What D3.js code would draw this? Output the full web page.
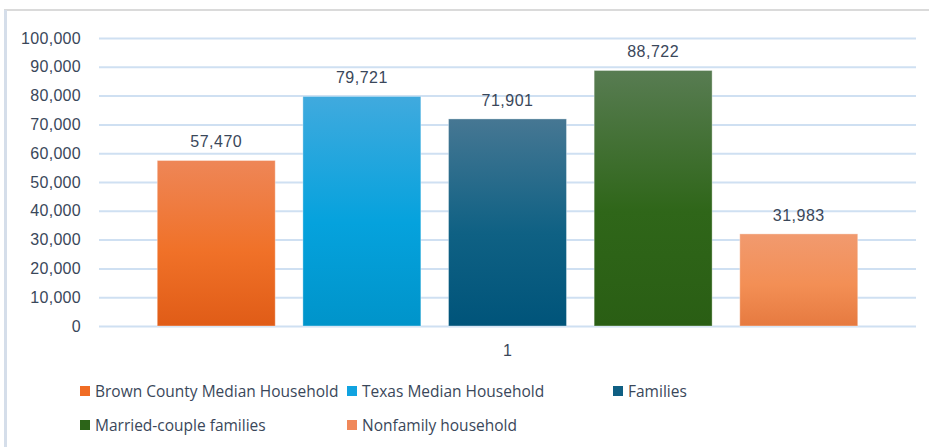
<!DOCTYPE html>
<html>
<head>
<meta charset="utf-8">
<script src="https://cdn.jsdelivr.net/npm/d3@7"></script>
<style>
  body { margin: 0; background: #fff; }
  svg { display: block; }
  .tick text { font-family: "Liberation Sans", Arial, sans-serif; }
</style>
</head>
<body>
<script>
const categories = ["1"];
const seriesNames = ["Brown County Median Household", "Texas Median Household", "Families",
                     "Married-couple families", "Nonfamily household"];
const seriesValues = [57470, 79721, 71901, 88722, 31983];
const yTicks = [0, 10000, 20000, 30000, 40000, 50000, 60000, 70000, 80000, 90000, 100000];
// top, mid, bottom of each bar's gradient
const barColors = [
  ["#ee8657", "#f07128", "#e05c17"],
  ["#40aade", "#05a2dd", "#0094ca"],
  ["#467793", "#0f6184", "#00547a"],
  ["#587c52", "#2f6619", "#2a5e14"],
  ["#f19a6f", "#f38f55", "#e67a40"]
];
const legendSwatch = ["#f06c24", "#11a3e0", "#0f5f83", "#2c6418", "#f0885a"];

const w = 929, h = 447;
const plotLeft = 99, plotRight = 916, plotTop = 38, plotBottom = 326;

const svg = d3.select("body").append("svg")
  .attr("width", w).attr("height", h);

// chart frame
svg.append("line").attr("x1", 4).attr("x2", w).attr("y1", 10).attr("y2", 10)
  .attr("stroke", "#dadada").attr("stroke-width", 2);
svg.append("line").attr("x1", 5.5).attr("x2", 5.5).attr("y1", 10).attr("y2", h)
  .attr("stroke", "#d5deea").attr("stroke-width", 3);

const y = d3.scaleLinear().domain([0, 100000]).range([plotBottom, plotTop]);
const x0 = d3.scaleBand().domain(categories).range([plotLeft, plotRight]);
const x1 = d3.scaleBand().domain(seriesNames).range([0, x0.bandwidth()])
  .paddingInner(0.19).paddingOuter(0.4);

// gridlines + y labels
const yAxis = d3.axisLeft(y).tickValues(yTicks).tickFormat(d3.format(","))
  .tickSize(-(plotRight - plotLeft)).tickPadding(18);
const gy = svg.append("g").attr("transform", `translate(${plotLeft},0)`).call(yAxis);
gy.select(".domain").remove();
gy.selectAll(".tick line").attr("stroke", "#cfe0f2").attr("stroke-width", 2);
gy.selectAll(".tick text").attr("fill", "#3a475a").style("font-size", "16px").attr("letter-spacing", "0.3px");

// gradients
const defs = svg.append("defs");
barColors.forEach((c, i) => {
  const g = defs.append("linearGradient").attr("id", "g" + i)
    .attr("x1", 0).attr("y1", 0).attr("x2", 0).attr("y2", 1);
  g.append("stop").attr("offset", "0%").attr("stop-color", c[0]);
  g.append("stop").attr("offset", "55%").attr("stop-color", c[1]);
  g.append("stop").attr("offset", "100%").attr("stop-color", c[2]);
});

const data = seriesNames.map((s, i) => ({ name: s, value: seriesValues[i], i }));

const grp = svg.append("g").attr("transform", `translate(${x0(categories[0])},0)`);
grp.selectAll("rect").data(data).enter().append("rect")
  .attr("x", d => x1(d.name))
  .attr("y", d => y(d.value))
  .attr("width", x1.bandwidth())
  .attr("height", d => plotBottom - y(d.value))
  .attr("fill", d => `url(#g${d.i})`)
  .attr("stroke", "rgba(255,255,255,0.35)")
  .attr("stroke-width", 1);

grp.selectAll("text.val").data(data).enter().append("text")
  .attr("class", "val")
  .attr("x", d => x1(d.name) + x1.bandwidth() / 2)
  .attr("y", d => y(d.value) - 13)
  .attr("text-anchor", "middle")
  .attr("fill", "#3a475a")
  .attr("font-family", "Liberation Sans, Arial, sans-serif")
  .attr("font-size", 16)
  .attr("letter-spacing", "0.5px")
  .text(d => d3.format(",")(d.value));

// category label
svg.append("text")
  .attr("x", x0(categories[0]) + x0.bandwidth() / 2)
  .attr("y", 356)
  .attr("text-anchor", "middle")
  .attr("fill", "#3a475a")
  .attr("font-family", "Liberation Sans, Arial, sans-serif")
  .attr("font-size", 16)
  .text(categories[0]);

// legend
const legendX = [80, 347, 613, 80, 347];
const legendY = [391, 391, 391, 425, 425];
const lg = svg.append("g").selectAll("g").data(data).enter().append("g")
  .attr("transform", d => `translate(${legendX[d.i]},${legendY[d.i]})`);
lg.append("rect").attr("x", 0).attr("y", -5).attr("width", 10).attr("height", 10)
  .attr("fill", d => legendSwatch[d.i]);
lg.append("text").attr("x", 15).attr("y", 6)
  .attr("fill", "#3a475a")
  .attr("font-family", "Open Sans, sans-serif")
  .attr("font-size", 15.5)
  .text(d => d.name);
</script>
</body>
</html>
